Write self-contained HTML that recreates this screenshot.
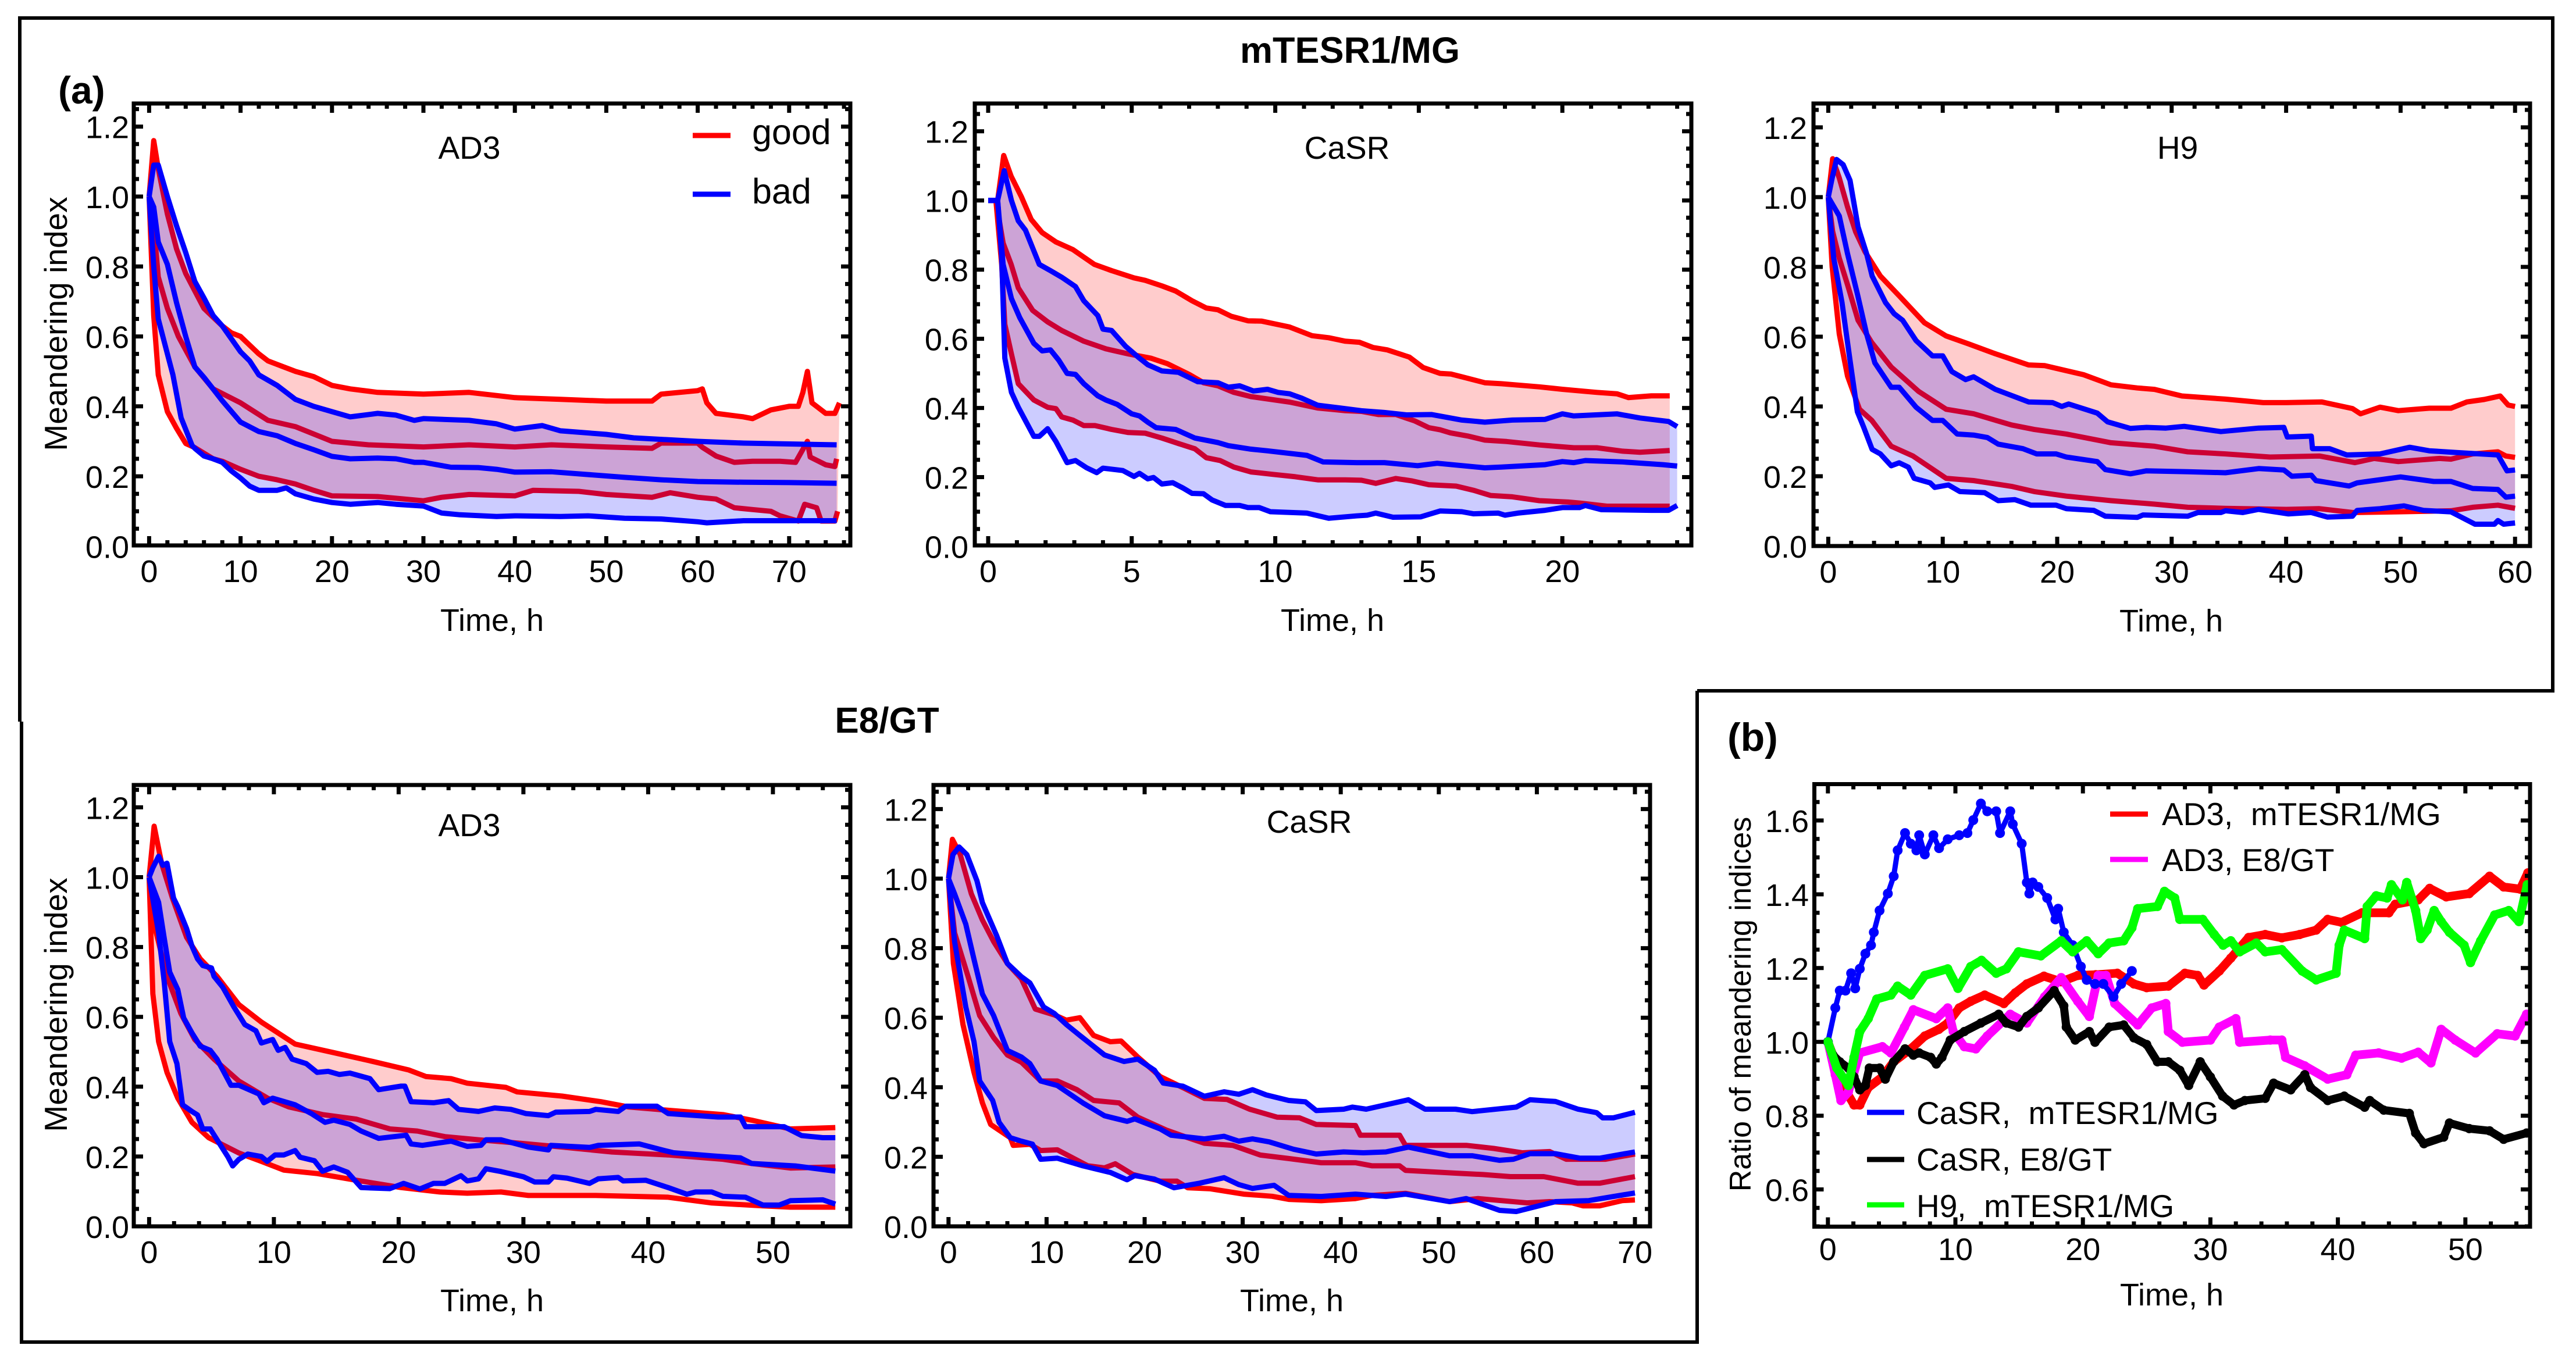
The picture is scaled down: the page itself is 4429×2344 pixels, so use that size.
<!DOCTYPE html>
<html lang="en">
<head>
<meta charset="utf-8">
<title>Meandering index panels</title>
<style>
html,body{margin:0;padding:0;background:#fff;}
svg{display:block;font-family:"Liberation Sans",sans-serif;fill:#000;}
.pre{white-space:pre;}
</style>
</head>
<body>
<svg id="chart" xmlns="http://www.w3.org/2000/svg" width="4429" height="2344" viewBox="0 0 4429 2344">
<defs>
<clipPath id="clip-b"><rect x="3119" y="1348" width="1231" height="761"/></clipPath>
</defs>
<rect x="0" y="0" width="4429" height="2344" fill="#fff"/>
<path d="M34,1241 V31 H4389 V1188 H2918" fill="none" stroke="#000" stroke-width="6"/>
<path d="M37,1241 V2308 H2918 V1188" fill="none" stroke="#000" stroke-width="6"/>
<text x="2321" y="108" font-size="63" font-weight="bold" text-anchor="middle">mTESR1/MG</text>
<text x="1525" y="1260" font-size="62" font-weight="bold" text-anchor="middle">E8/GT</text>
<text x="100" y="178" font-size="66" font-weight="bold">(a)</text>
<text x="2970" y="1291" font-size="68" font-weight="bold">(b)</text>

<g id="plots"></g>

<text font-size="55" text-anchor="middle" transform="translate(115,557) rotate(-90)">Meandering index</text>
<text font-size="55" text-anchor="middle" transform="translate(115,1728) rotate(-90)">Meandering index</text>
<text font-size="52" text-anchor="middle" transform="translate(3010,1727) rotate(-90)">Ratio of meandering indices</text>

<text x="846" y="1085" font-size="54" text-anchor="middle">Time, h</text>
<text x="2291" y="1085" font-size="54" text-anchor="middle">Time, h</text>
<text x="3733" y="1086" font-size="54" text-anchor="middle">Time, h</text>
<text x="846" y="2255" font-size="54" text-anchor="middle">Time, h</text>
<text x="2221" y="2255" font-size="54" text-anchor="middle">Time, h</text>
<text x="3734" y="2245" font-size="54" text-anchor="middle">Time, h</text>

<text x="807" y="273" font-size="55" text-anchor="middle">AD3</text>
<text x="2316" y="273" font-size="55" text-anchor="middle">CaSR</text>
<text x="3744" y="273" font-size="55" text-anchor="middle">H9</text>
<text x="807" y="1438" font-size="55" text-anchor="middle">AD3</text>
<text x="2251" y="1432" font-size="55" text-anchor="middle">CaSR</text>

<g>
<line x1="1191" x2="1256" y1="233" y2="233" stroke="#f00" stroke-width="9"/>
<text x="1293" y="248" font-size="61">good</text>
<line x1="1191" x2="1256" y1="334" y2="334" stroke="#00f" stroke-width="9"/>
<text x="1293" y="350" font-size="61">bad</text>
</g>
<g font-size="55">
<line x1="3628" x2="3693" y1="1400" y2="1400" stroke="#f00" stroke-width="9"/>
<text class="pre" x="3717" y="1419">AD3,  mTESR1/MG</text>
<line x1="3628" x2="3693" y1="1478" y2="1478" stroke="#f0f" stroke-width="9"/>
<text class="pre" x="3717" y="1498">AD3, E8/GT</text>
<line x1="3210" x2="3274" y1="1913" y2="1913" stroke="#00f" stroke-width="9"/>
<text class="pre" x="3295" y="1933">CaSR,  mTESR1/MG</text>
<line x1="3210" x2="3274" y1="1994" y2="1994" stroke="#000" stroke-width="9"/>
<text class="pre" x="3295" y="2013">CaSR, E8/GT</text>
<line x1="3210" x2="3274" y1="2072" y2="2072" stroke="#0f0" stroke-width="9"/>
<text class="pre" x="3295" y="2093">H9,  mTESR1/MG</text>
</g>
</svg>

<script>
// ---------- AD3, mTESR1/MG ----------
const ad3MgGoodUpperT=[0,.5,1,2,3,4,5,6,7,8,9,10,11,12,13,14,16,18,20,22,25,30,35,40,45,50,55,56,60,60.5,61,62,65,66,68,70,71,71.5,72,72.5,73,74,75,75.5];
const ad3MgGoodUpperV=[1,1.16,1.08,.95,.85,.78,.73,.68,.655,.63,.61,.6,.575,.55,.53,.52,.5,.485,.46,.45,.44,.435,.44,.425,.42,.415,.415,.435,.445,.45,.41,.38,.37,.365,.39,.4,.4,.44,.5,.41,.4,.38,.38,.41];
const ad3MgGoodMidT=[0,.5,1,2,3.2,5,7,10,13,16,20,24,30,35,40,44,50,55,56,60,60.5,62,64,66,69,70.7,72,72.3,74,75,75.2];
const ad3MgGoodMidV=[1,.92,.77,.68,.6,.513,.45,.41,.36,.342,.3,.29,.284,.29,.284,.29,.284,.28,.295,.295,.283,.258,.24,.243,.243,.24,.3,.255,.233,.228,.25];
const ad3MgGoodLowerT=[0,.5,1,2,3,4,5,7,8,10,12,14,16,18,20,25,30,32,35,40,42,47,50,55,57,60,62,64,66,68,69,71,71.7,73,73.5,75,75.3];
const ad3MgGoodLowerV=[1,.66,.49,.385,.337,.294,.282,.25,.243,.22,.2,.19,.178,.16,.144,.142,.13,.14,.148,.144,.16,.157,.148,.14,.153,.14,.135,.11,.105,.1,.087,.072,.12,.11,.072,.072,.1];
const ad3MgBadUpperT=[0,.5,1,2,3,4,5,6,7,8,10,11,12,14,16,18,20,22,25,27,29,30,35,38,40,43,45,50,53,60,65,75.2];
const ad3MgBadUpperV=[1,1.09,1.09,1,.916,.84,.757,.71,.66,.63,.556,.53,.49,.46,.42,.4,.385,.37,.38,.375,.36,.365,.36,.35,.335,.345,.33,.32,.31,.3,.295,.29];
const ad3MgBadMidT=[0,.5,1,2,3,4,5,6,8,10,12,14,16,18,20,22,25,27,29,30,33,36,38,40,44,48,52,56,60,65,70,75.2];
const ad3MgBadMidV=[1,.97,.87,.806,.696,.6,.513,.483,.416,.355,.328,.316,.294,.276,.257,.25,.252,.25,.24,.24,.226,.225,.22,.212,.213,.205,.197,.19,.185,.183,.182,.18];
const ad3MgBadLowerT=[0,.5,1,2,2.6,3.5,4.7,5,6,7,8,9,10,11,12,14,15,16,18,19,20,22,25,27,30,32,34,38,40,45,48,52,56,60,61,65,70,75.2];
const ad3MgBadLowerV=[1,.8,.65,.55,.49,.367,.288,.28,.258,.25,.24,.215,.195,.172,.16,.16,.167,.15,.135,.13,.125,.12,.125,.12,.115,.095,.09,.085,.087,.085,.087,.08,.078,.07,.067,.073,.073,.073];

// ---------- CaSR, mTESR1/MG ----------
const casrMgGoodUpperT=[0,.33,.54,.8,1.16,1.5,1.88,2.36,2.95,3.33,3.7,4.3,5.08,5.47,6.05,6.53,7.1,7.6,8,8.47,9.05,9.53,10.5,11.28,11.86,12.44,12.93,13.4,13.9,14.67,15.15,15.74,16.12,16.5,17.3,17.87,19.2,20,21.2,21.9,22.3,23.1,23.74];
const casrMgGoodUpperV=[1,1,1.13,1.07,1.01,.945,.907,.88,.858,.836,.815,.797,.776,.769,.753,.738,.71,.689,.684,.665,.652,.651,.634,.609,.603,.593,.59,.575,.568,.547,.517,.5,.498,.49,.473,.47,.461,.454,.445,.441,.43,.435,.435];
const casrMgGoodMidT=[.27,.52,.8,1.05,1.55,2.07,2.56,3.33,4.1,4.9,5.66,6.24,7,7.5,8,8.56,9.15,10.5,11.47,12.44,13,13.6,14.2,14.86,15.35,15.74,16.1,16.7,17.3,18.06,19.2,20.4,21.2,22.1,22.7,23.74];
const casrMgGoodMidV=[1,.877,.815,.747,.682,.649,.624,.593,.571,.556,.544,.528,.497,.473,.464,.445,.433,.417,.4,.392,.39,.381,.381,.3625,.343,.337,.328,.319,.307,.303,.293,.285,.285,.275,.272,.277];
const casrMgGoodLowerT=[.27,.47,.58,.81,1.05,1.59,2.07,2.36,2.56,2.95,3.33,3.72,4.3,4.88,5.47,6.05,6.63,7.2,7.6,8.08,8.56,9.15,9.92,10.7,11.5,12.44,13,13.5,14.2,14.77,15.35,16.3,16.9,17.5,18.26,19.2,20.2,20.6,21.55,23.1,23.74];
const casrMgGoodLowerV=[1,.815,.642,.556,.47,.423,.402,.398,.374,.365,.349,.349,.338,.329,.327,.313,.297,.282,.256,.248,.229,.215,.208,.201,.192,.192,.191,.182,.196,.189,.178,.174,.162,.147,.143,.132,.128,.125,.116,.116,.116];
const casrMgBadUpperT=[0,.33,.56,.81,1.05,1.3,1.78,2.17,2.56,3.04,3.33,3.82,4,4.3,4.79,5.27,5.56,6.05,6.63,7.3,8,8.37,8.76,9.24,9.73,10.1,10.5,10.9,11.47,12.25,13,13.8,14.57,15.45,16.5,17.3,18.26,19.4,20,20.4,21.9,22.7,23.7,24];
const casrMgBadUpperV=[1,1,1.086,1,.941,.914,.815,.797,.778,.751,.71,.667,.628,.624,.578,.544,.525,.507,.503,.476,.473,.46,.464,.449,.454,.445,.441,.429,.408,.4,.392,.387,.38,.381,.365,.359,.365,.367,.383,.377,.383,.371,.361,.346];
const casrMgBadMidT=[0,.33,.52,.81,1.1,1.59,1.88,2.17,2.46,2.75,3.04,3.33,3.82,4.1,4.5,5,5.27,5.56,5.85,6.53,7.2,8,8.37,9.15,9.73,11.1,11.67,12.83,13.8,14.96,15.64,17.3,17.87,19.4,20,20.4,20.8,22.1,23.5,24];
const casrMgBadMidV=[1,1,.815,.716,.661,.587,.565,.568,.538,.5,.497,.47,.435,.423,.41,.383,.377,.359,.343,.338,.313,.3,.291,.281,.276,.263,.244,.242,.242,.233,.24,.227,.229,.236,.245,.242,.248,.244,.236,.232];
const casrMgBadLowerT=[0,.33,.47,.58,.81,1.05,1.59,1.78,2.07,2.36,2.75,3.04,3.43,3.78,4,4.69,5.08,5.27,5.56,5.76,6.05,6.43,6.8,7.1,7.5,7.8,8.27,8.76,9.05,9.44,9.83,11.1,11.86,12.83,13.2,13.5,14.1,15.06,15.74,16.5,16.9,17.77,18,18.45,19.4,20,20.6,20.8,21.36,23.1,23.7,24];
const casrMgBadLowerV=[1,1,.84,.544,.445,.402,.318,.318,.34,.303,.242,.248,.227,.213,.226,.219,.202,.211,.195,.199,.18,.184,.168,.153,.152,.134,.118,.118,.112,.112,.1,.096,.081,.088,.09,.096,.084,.085,.102,.1,.094,.096,.09,.096,.104,.112,.112,.118,.106,.104,.104,.118];

// ---------- H9, mTESR1/MG ----------
const h9MgGoodUpperT=[0,.38,.96,1.68,2.4,3.2,4.55,6.2,8.4,10.3,12.2,14.6,17.5,18.9,22.3,24.7,27,28.5,30.9,34.7,38,40,43.1,45.8,46.5,48.2,49.8,52.5,54.4,55.8,57.3,58.7,59.4,60];
const h9MgGoodUpperV=[1,1.11,1.055,.972,.9,.844,.774,.717,.64,.602,.58,.551,.519,.517,.491,.462,.453,.449,.43,.421,.411,.411,.413,.394,.379,.398,.388,.395,.395,.413,.42,.43,.404,.4];
const h9MgGoodMidT=[0,.38,.96,1.68,2.6,3.8,5.5,7.9,10.3,12.7,16,18,20.8,24.7,28.5,31.4,34.7,38.6,42.9,46,47.7,49.8,53.4,54.4,56.3,58.5,59.2,60];
const h9MgGoodMidV=[1,.902,.825,.749,.647,.583,.513,.443,.392,.379,.347,.334,.321,.296,.286,.27,.264,.255,.258,.239,.251,.242,.251,.249,.264,.27,.258,.254];
const h9MgGoodLowerT=[0,.34,.96,1.68,2.73,3.8,5.5,7.4,10.3,12.7,16,18,20.8,24.7,28.5,31.4,34.7,40,42.9,45.8,49.6,54.4,56.3,58.5,60];
const h9MgGoodLowerV=[1,.8,.608,.487,.392,.36,.286,.258,.194,.1875,.171,.156,.143,.13,.12,.111,.108,.105,.107,.096,.098,.101,.111,.117,.108];
const h9MgBadUpperT=[0,.34,.72,1.3,1.9,2.6,3.35,3.83,5,5.75,6.5,7.67,9.1,10,10.8,12,12.7,14.6,17.5,19.6,20.4,21,23.5,24.4,26.4,27.8,29.5,31.1,34.3,37.6,39.8,40.1,42.2,42.3,43.8,45.3,48.2,50.8,52.5,54.9,58.5,59.3,60];
const h9MgBadUpperV=[1,1.055,1.108,1.093,1.048,.915,.838,.774,.698,.666,.647,.589,.545,.545,.5,.477,.485,.449,.413,.411,.4,.407,.381,.356,.337,.34,.338,.343,.328,.338,.34,.3125,.315,.279,.279,.261,.264,.283,.273,.268,.261,.2155,.218];
const h9MgBadMidT=[0,.96,1.68,2.54,3.35,4.07,5.5,6.2,7.67,9.1,10,11.26,12.7,13.9,14.85,17,18.2,19.9,20.8,23.5,24.2,26.4,27.8,31.4,34.7,37.6,39.8,40.5,42.2,42.6,45.5,46.2,50,52.9,54.4,56.3,58.5,59.2,60];
const h9MgBadMidV=[1,.946,.838,.723,.608,.525,.455,.455,.398,.36,.36,.321,.318,.311,.292,.279,.264,.264,.255,.242,.219,.207,.2155,.213,.21,.222,.218,.2,.203,.1875,.172,.181,.198,.185,.185,.165,.162,.14,.143];
const h9MgBadLowerT=[0,.48,1.2,1.9,2.54,3.1,3.83,4.55,5.5,6.2,7,7.5,8.9,9.3,10.5,11.5,13.66,14.85,16.3,17.7,19.9,20.8,23.2,24.2,27,27.5,31.4,32.3,34.3,34.7,36.2,37.6,40.2,42.2,43.6,45.8,46.2,48.2,50.3,52,54.4,56.5,58.2,58.5,59,60];
const h9MgBadLowerV=[1,.825,.698,.532,.385,.34,.277,.264,.23,.2385,.226,.194,.181,.168,.175,.156,.153,.13,.133,.117,.117,.107,.102,.0855,.082,.089,.0855,.096,.096,.101,.096,.105,.092,.096,.083,.0855,.102,.107,.115,.102,.098,.0625,.0625,.073,.0625,.066];

// ---------- AD3, E8/GT ----------
const ad3E8GoodUpperT=[0,.4,1,1.87,3,4.1,5.44,7.2,9,11.7,14.8,17.9,20.8,22.2,24.2,25.5,28.6,29.5,33.1,36.2,38.4,40.7,46,48.3,51.4,55];
const ad3E8GoodUpperV=[1,1.146,1.04,.94,.828,.766,.716,.635,.585,.522,.4975,.4725,.448,.429,.423,.41,.398,.385,.373,.357,.342,.335,.32,.304,.279,.283];
const ad3E8GoodMidT=[0,.4,1.43,2.54,3.66,5.2,7.2,9.5,11.2,13.9,16.6,19.3,21.5,23.7,26.4,30.4,33.1,37.1,41.6,46,48.3,51.4,55];
const ad3E8GoodMidV=[1,.865,.716,.61,.535,.479,.416,.367,.342,.32,.307,.279,.273,.257,.248,.236,.227,.213,.2045,.192,.18,.167,.17];
const ad3E8GoodLowerT=[0,.3,.76,1.43,2.3,3.43,4.77,7.2,9,10.8,13.5,16.6,20.2,23.3,25.5,28.2,30.4,35.8,41.6,45.1,49.2,51.4,55];
const ad3E8GoodLowerV=[1,.666,.529,.441,.367,.298,.254,.21,.186,.161,.151,.132,.111,.0985,.095,.0985,.0885,.0885,.0835,.067,.0586,.055,.055];
const ad3E8BadUpperT=[0,.3,.76,1.1,1.43,1.96,2.3,3,3.43,3.88,4.3,5,5.2,5.9,6.8,7.67,8.56,9,9.9,10.35,10.9,11.46,12.6,13.47,14.36,15.25,16.1,17.7,18.4,20.16,20.5,21,22.8,24,24.8,26.4,27.7,29,30.2,32,32.6,35.3,35.8,37.6,38.2,40.7,41.6,45.6,47.4,47.8,50.9,52.3,54,55];
const ad3E8BadUpperV=[1,1.027,1.06,1.034,1.04,.94,.915,.853,.803,.766,.747,.74,.716,.685,.628,.578,.56,.525,.535,.504,.5125,.479,.466,.441,.444,.435,.439,.423,.3915,.4015,.4015,.357,.354,.36,.335,.329,.339,.335,.323,.317,.327,.329,.335,.329,.344,.344,.323,.313,.313,.2855,.2855,.26,.254,.254];
const ad3E8BadMidT=[0,.76,1.2,1.65,2.3,2.77,3.43,4.1,4.9,5.44,6.56,7.2,8.8,9.2,9.9,11.7,13,14.1,14.8,16.1,17,18.4,20.6,21,21.9,24.2,25.5,26.6,27,28.2,30.4,32,32.2,35.3,36,39.3,41.1,42,45.1,47.4,48.3,51.8,55];
const ad3E8BadMidV=[1,.928,.828,.728,.678,.597,.554,.516,.504,.479,.404,.404,.379,.354,.367,.348,.323,.298,.304,.292,.273,.252,.261,.236,.232,.244,.229,.232,.248,.248,.227,.219,.232,.226,.232,.236,.219,.211,.202,.196,.18,.173,.158];
const ad3E8BadLowerT=[0,.76,1.2,1.65,2.23,2.68,3.43,3.88,4.3,4.9,5.66,6.33,6.7,7.2,7.9,9,9.46,10.1,10.8,11.7,12.1,13.25,13.9,14.8,15.9,17,19.3,20.4,21.7,22.8,23.7,25,25.5,26.4,27,28.2,30,30.9,32,32.4,33.5,35.3,36,37.6,38,39.8,41.6,43.1,43.8,45.1,46,47.8,49.2,50.5,51.4,54,55];
const ad3E8BadLowerV=[1,.84,.703,.529,.466,.348,.329,.319,.279,.279,.236,.198,.173,.192,.207,.2,.186,.2045,.2045,.217,.198,.188,.158,.17,.155,.111,.108,.123,.107,.123,.123,.145,.13,.136,.165,.157,.142,.127,.127,.142,.138,.123,.136,.14,.13,.132,.111,.092,.0985,.0985,.086,.0835,.061,.061,.0735,.076,.0636];

// ---------- CaSR, E8/GT ----------
const casrE8GoodUpperT=[0,.4,1.2,2.33,3.46,4.6,6,7.43,8.85,10.8,12,13.4,14.8,16.5,17.6,19.3,21.6,23.9,26.1,28.4,30.7,33.5,35.8,37.5,41.5,42,46,46.6,52.8,55.6,58.5,61.3,63,67,70];
const casrE8GoodUpperV=[1,1.113,1.069,.956,.881,.819,.756,.712,.625,.608,.593,.6,.549,.531,.533,.487,.4305,.399,.368,.365,.337,.314,.312,.293,.29,.262,.262,.233,.233,.224,.2115,.215,.193,.193,.208];
const casrE8GoodMidT=[0,.62,2,3.18,4.6,6,7.43,9.4,11.1,13.1,14.8,17.4,19.3,22.2,24.4,26.1,29,31.8,34.7,38,41.5,43.2,46,46.6,51.7,54.5,57.3,60.7,64.2,66.4,70];
const casrE8GoodMidV=[1,.844,.718,.606,.543,.493,.472,.418,.418,.393,.362,.355,.314,.277,.255,.239,.233,.205,.195,.183,.183,.174,.174,.161,.153,.149,.143,.143,.124,.124,.143];
const casrE8GoodLowerT=[0,.5,1.47,2.6,3.46,4.3,6.3,6.6,8.3,9.4,11.1,14.2,15.9,17,18.8,21.6,23.3,24.4,26.7,28.7,30.1,33,34.7,38,41.5,43.2,46.6,51.1,54,59,61.3,63.6,64.7,66.4,68.7,70];
const casrE8GoodLowerV=[1,.756,.581,.443,.355,.293,.255,.233,.236,.218,.22,.174,.168,.18,.149,.13,.13,.111,.108,.099,.0926,.0864,.0776,.0738,.08,.089,.095,.071,.08,.0676,.071,.0676,.059,.059,.074,.076];
const casrE8BadUpperT=[0,.45,1.08,1.87,2.9,3.46,4.9,6,7.43,8.3,9.7,10.8,12,13.4,15.9,17.9,19.3,21,21.9,23.9,26.1,28.1,29.6,31,32.4,34.7,36.4,37.5,40.3,41.2,42.6,46.9,48.6,51.7,53.4,57.9,59.3,61.9,64.2,66.1,66.7,67.8,70];
const casrE8BadUpperV=[1,1.069,1.091,1.069,.994,.931,.837,.756,.718,.7,.631,.612,.581,.549,.493,.474,.481,.449,.412,.403,.374,.387,.38,.393,.378,.362,.358,.333,.337,.343,.337,.364,.337,.337,.33,.343,.364,.359,.337,.327,.312,.312,.328];
const casrE8BadMidT=[0,.62,1.76,2.6,3.46,4.6,6,7.43,8.3,9.4,11.1,13.7,15.9,18.2,19,21.6,22.7,26.1,28.1,29.6,31,32.7,35.2,37.5,40.3,42.3,44.6,46.9,51.1,53.4,56.2,57.6,59.3,61.9,64.4,66.4,70];
const casrE8BadMidV=[1,.956,.869,.768,.668,.606,.506,.487,.468,.418,.405,.355,.318,.302,.309,.28,.262,.2515,.259,.245,.2515,.243,.2215,.208,.214,.2115,.214,.228,.203,.203,.19,.193,.209,.209,.196,.196,.214];
const casrE8BadLowerT=[0,.62,1.76,2.6,3.18,4.5,5.16,6.3,7.43,8.56,9.4,11.1,13.7,16.5,18.2,19,21,23,25.6,28.1,29.6,31,33.2,34.7,38,41.5,44.6,46.6,51.1,52.8,56.2,57.9,61.9,65.3,70];
const casrE8BadLowerV=[1,.818,.631,.531,.418,.362,.299,.255,.245,.2365,.193,.196,.174,.155,.134,.146,.136,.111,.124,.14,.12,.109,.118,.089,.086,.0926,.086,.0926,.071,.08,.046,.0426,.071,.074,.096];

// ---------- (b) ratio of meandering indices ----------
const ratioAd3MgT=[0,.58,1.16,2.05,2.5,3.16,4.27,5.16,6.5,7.6,8.7,9.4,10.3,11.2,12.3,13.8,14.7,15.6,16.95,18.3,19.6,21,22.7,24,25,26.7,28,29,29.5,30.7,31.6,33,34.3,35.6,37,38.3,39.2,40.3,41.9,44,44.5,46.3,47.2,48.5,50.3,51.9,53,54.3,54.9];
const ratioAd3MgV=[1,.946,.882,.829,.829,.876,.905,.946,.981,1.016,1.034,1.051,1.092,1.11,1.127,1.104,1.133,1.157,1.178,1.163,1.18,1.182,1.186,1.157,1.147,1.151,1.186,1.18,1.154,1.192,1.227,1.283,1.291,1.282,1.291,1.303,1.332,1.324,1.35,1.35,1.373,1.385,1.416,1.393,1.402,1.449,1.42,1.414,1.458];
const ratioAd3E8T=[0,.58,1.02,1.6,2.5,4.27,4.94,6,6.7,8.5,9.4,9.83,10.7,11.6,12.5,14.3,15.6,17,18.3,19.6,20.5,21.2,21.8,22.5,24.3,25.4,26.5,26.7,27.8,30,30.7,32,32.3,34.7,35.6,35.9,37.4,39.2,40.7,41.4,43.2,45,46.3,47.3,48.1,49.2,50.8,52.5,53.9,54.8];
const ratioAd3E8V=[1,.911,.841,.864,.97,.987,.97,1.04,1.087,1.063,1.092,1.028,.987,.981,1.016,1.075,1.051,1.122,1.174,1.11,1.069,1.18,1.18,1.104,1.046,1.092,1.104,1.028,.999,1.005,1.04,1.063,.999,1.005,1.005,.958,.935,.899,.911,.964,.97,.956,.972,.943,1.034,1.005,.97,1.022,1.016,1.075];
const ratioCasrMgT=[0,.58,.93,1.38,1.82,2.14,2.5,2.94,3.38,3.6,4.05,4.7,5.16,5.47,6.05,6.5,6.94,7.16,7.6,8.27,8.72,9.4,10.3,10.94,11.4,12,12.5,13.2,13.5,14.3,14.5,15.2,15.6,15.8,16.06,16.5,17.2,17.84,18.06,18.5,19.2,19.84,20.3,20.95,21.6,22.4,23,23.84];
const ratioCasrMgV=[1,1.092,1.139,1.139,1.186,1.145,1.198,1.239,1.262,1.297,1.356,1.402,1.449,1.519,1.566,1.537,1.519,1.56,1.508,1.56,1.525,1.549,1.56,1.566,1.601,1.646,1.625,1.625,1.566,1.625,1.59,1.537,1.432,1.402,1.432,1.42,1.39,1.332,1.361,1.297,1.262,1.204,1.168,1.157,1.157,1.122,1.157,1.192];
const ratioCasrE8T=[0,.4,.93,1.6,2.05,2.5,2.94,3.25,4.05,4.5,5.16,6.05,6.7,7.16,8.05,8.5,8.94,9.6,10.7,12,13.4,14,14.95,15.6,16.5,17.75,18.5,18.7,19.4,20.5,20.95,22.06,23.2,24,25,25.85,26.7,27.6,28.3,29.2,30,30.96,31.85,32.7,34.3,34.96,36.3,37.4,37.86,39.2,40.5,42.1,42.5,43.6,45.6,46.1,46.75,48.3,48.75,50.3,51.9,53,54.8];
const ratioCasrE8V=[1,.964,.946,.929,.905,.87,.882,.929,.929,.899,.946,.981,.964,.97,.958,.94,.958,1.005,1.028,1.051,1.075,1.051,1.04,1.069,1.092,1.139,1.098,1.04,1.005,1.028,.999,1.04,1.046,1.011,.993,.946,.946,.923,.882,.946,.905,.853,.829,.841,.847,.888,.87,.911,.876,.841,.853,.823,.841,.815,.806,.753,.724,.742,.78,.765,.759,.736,.753];
const ratioH9MgT=[0,.7,1.6,2.05,2.5,3.16,3.83,4.94,5.47,6.5,7.6,9.4,10.2,11.2,12.05,13.2,14,14.95,16.7,18.3,19.2,20.3,21.2,22.06,23.2,23.84,24.3,25.85,26.4,27.2,27.6,29.4,30.3,31,31.6,32.3,33.6,34.3,35.6,37.2,38.3,39.86,40.1,40.5,42.1,42.3,43,43.86,44.2,45.06,45.4,46.1,46.5,47,47.55,48.1,48.75,49.9,50.4,51.2,52.3,53.4,54.2,54.85];
const ratioH9MgV=[1,.929,.882,.958,1.028,1.063,1.116,1.127,1.151,1.127,1.18,1.198,1.145,1.204,1.221,1.186,1.198,1.244,1.233,1.274,1.244,1.274,1.239,1.268,1.274,1.309,1.361,1.367,1.408,1.39,1.332,1.332,1.291,1.262,1.274,1.244,1.268,1.244,1.25,1.192,1.168,1.186,1.262,1.303,1.28,1.367,1.396,1.39,1.426,1.385,1.432,1.356,1.28,1.303,1.356,1.326,1.297,1.262,1.215,1.274,1.344,1.356,1.326,1.426];

// ---------- tick labels ----------
const yTickLabelsIndex=["0.0","0.2","0.4","0.6","0.8","1.0","1.2"];
const yTickLabelsRatio=["0.6","0.8","1.0","1.2","1.4","1.6"];
const xTickLabelsAd3Mg=["0","10","20","30","40","50","60","70"];
const xTickLabelsCasrMg=["0","5","10","15","20"];
const xTickLabelsH9Mg=["0","10","20","30","40","50","60"];
const xTickLabelsAd3E8=["0","10","20","30","40","50"];
const xTickLabelsCasrE8=["0","10","20","30","40","50","60","70"];
const xTickLabelsRatio=["0","10","20","30","40","50"];

const SVGNS='http://www.w3.org/2000/svg';
const plots=document.getElementById('plots');

function node(tag,parent){
  const el=document.createElementNS(SVGNS,tag);
  parent.appendChild(el);
  return el;
}
function axisX(p,t){return p.x0+t*p.xs;}
function axisY(p,v){return p.y0-(v-p.vBase)*p.ys;}
function linePath(p,T,V){
  let d='';
  for(let i=0;i<T.length;i++){d+=(i?'L':'M')+axisX(p,T[i]).toFixed(1)+','+axisY(p,V[i]).toFixed(1);}
  return d;
}
function bandPath(p,T1,V1,T2,V2){
  let d=linePath(p,T1,V1);
  for(let i=T2.length-1;i>=0;i--){d+='L'+axisX(p,T2[i]).toFixed(1)+','+axisY(p,V2[i]).toFixed(1);}
  return d+'Z';
}
function drawBand(g,p,name,color,d){
  const el=node('path',g);
  
  
  el.setAttribute('d',d);
  el.setAttribute('fill',color);
  el.setAttribute('fill-opacity','0.2');
}
function drawLine(g,p,name,color,T,V){
  const el=node('path',g);
  
  
  el.setAttribute('d',linePath(p,T,V));
  el.setAttribute('fill','none');
  el.setAttribute('stroke',color);
  el.setAttribute('stroke-width','9');
  el.setAttribute('stroke-linejoin','round');
}
function drawFrame(g,p){
  const fr=node('rect',g);
  
  
  fr.setAttribute('x',p.left);fr.setAttribute('y',p.top);
  fr.setAttribute('width',p.right-p.left);fr.setAttribute('height',p.bottom-p.top);
  fr.setAttribute('fill','none');fr.setAttribute('stroke','#000');fr.setAttribute('stroke-width','7');

  const ticks=node('g',g);
  
  
  let d1='',d2='';
  // x ticks (bottom and top)
  for(let k=0;;k++){
    const t=k*p.xMinor,x=axisX(p,t);
    if(x>p.right-8)break;
    const maj=(k%p.xEvery===0),len=maj?16:9;
    const seg='M'+x.toFixed(1)+','+p.bottom+'V'+(p.bottom-len)+'M'+x.toFixed(1)+','+p.top+'V'+(p.top+len);
    if(maj)d1+=seg;else d2+=seg;
  }
  // y ticks (left and right)
  for(let k=0;;k++){
    const v=p.vBase+k*0.05,y=axisY(p,v);
    if(y<p.top+5)break;
    if(k===0&&p.vBase===0)continue;
    const maj=(Math.round((v-p.yMajorStart)*100)%20===0),len=maj?16:9;
    const seg='M'+p.left+','+y.toFixed(1)+'H'+(p.left+len)+'M'+p.right+','+y.toFixed(1)+'H'+(p.right-len);
    if(maj)d1+=seg;else d2+=seg;
  }
  const maj=node('path',ticks);
  
  
  maj.setAttribute('d',d1);maj.setAttribute('stroke','#000');maj.setAttribute('stroke-width','7');
  const min=node('path',ticks);
  
  
  min.setAttribute('d',d2);min.setAttribute('stroke','#000');min.setAttribute('stroke-width','7');

  p.xLabels.forEach(function(s){
    const tx=node('text',g);
    
    
    tx.setAttribute('x',axisX(p,parseFloat(s)).toFixed(1));
    tx.setAttribute('y',p.xLabelY);
    tx.setAttribute('font-size','54');
    tx.setAttribute('text-anchor','middle');
    tx.textContent=s;
  });
  p.yLabels.forEach(function(s){
    const tx=node('text',g);
    
    
    tx.setAttribute('x',p.yLabelX);
    tx.setAttribute('y',(axisY(p,parseFloat(s))+20).toFixed(1));
    tx.setAttribute('font-size','54');
    tx.setAttribute('text-anchor','end');
    tx.textContent=s;
  });
}
function drawBandPanel(p,s){
  const g=node('g',plots);
  
  
  drawBand(g,p,'good','#f00',bandPath(p,s.gu[0],s.gu[1],s.gl[0],s.gl[1]));
  drawLine(g,p,'good-upper','#f00',s.gu[0],s.gu[1]);
  drawLine(g,p,'good-mean','#f00',s.gm[0],s.gm[1]);
  drawLine(g,p,'good-lower','#f00',s.gl[0],s.gl[1]);
  drawBand(g,p,'bad','#00f',bandPath(p,s.bu[0],s.bu[1],s.bl[0],s.bl[1]));
  drawLine(g,p,'bad-upper','#00f',s.bu[0],s.bu[1]);
  drawLine(g,p,'bad-mean','#00f',s.bm[0],s.bm[1]);
  drawLine(g,p,'bad-lower','#00f',s.bl[0],s.bl[1]);
  drawFrame(g,p);
}

const geomBase={vBase:0,yMajorStart:0,yLabels:yTickLabelsIndex};
drawBandPanel(Object.assign({},geomBase,{id:'ad3-mg',left:230,right:1462,top:178,bottom:938,x0:256.4,xs:15.72,y0:939.4,ys:601.4,xMinor:2,xEvery:5,xLabels:xTickLabelsAd3Mg,xLabelY:1001,yLabelX:222}),
 {gu:[ad3MgGoodUpperT,ad3MgGoodUpperV],gm:[ad3MgGoodMidT,ad3MgGoodMidV],gl:[ad3MgGoodLowerT,ad3MgGoodLowerV],bu:[ad3MgBadUpperT,ad3MgBadUpperV],bm:[ad3MgBadMidT,ad3MgBadMidV],bl:[ad3MgBadLowerT,ad3MgBadLowerV]});
drawBandPanel(Object.assign({},geomBase,{id:'casr-mg',left:1676,right:2908,top:178,bottom:938,x0:1699,xs:49.36,y0:939.5,ys:594.8,xMinor:1,xEvery:5,xLabels:xTickLabelsCasrMg,xLabelY:1001,yLabelX:1665}),
 {gu:[casrMgGoodUpperT,casrMgGoodUpperV],gm:[casrMgGoodMidT,casrMgGoodMidV],gl:[casrMgGoodLowerT,casrMgGoodLowerV],bu:[casrMgBadUpperT,casrMgBadUpperV],bm:[casrMgBadMidT,casrMgBadMidV],bl:[casrMgBadLowerT,casrMgBadLowerV]});
drawBandPanel(Object.assign({},geomBase,{id:'h9-mg',left:3118,right:4350,top:178,bottom:939,x0:3143.4,xs:19.68,y0:939,ys:600,xMinor:2,xEvery:5,xLabels:xTickLabelsH9Mg,xLabelY:1002,yLabelX:3107}),
 {gu:[h9MgGoodUpperT,h9MgGoodUpperV],gm:[h9MgGoodMidT,h9MgGoodMidV],gl:[h9MgGoodLowerT,h9MgGoodLowerV],bu:[h9MgBadUpperT,h9MgBadUpperV],bm:[h9MgBadMidT,h9MgBadMidV],bl:[h9MgBadLowerT,h9MgBadLowerV]});
drawBandPanel(Object.assign({},geomBase,{id:'ad3-e8',left:230,right:1462,top:1350,bottom:2109,x0:256.4,xs:21.45,y0:2109,ys:600.5,xMinor:2,xEvery:5,xLabels:xTickLabelsAd3E8,xLabelY:2172,yLabelX:222}),
 {gu:[ad3E8GoodUpperT,ad3E8GoodUpperV],gm:[ad3E8GoodMidT,ad3E8GoodMidV],gl:[ad3E8GoodLowerT,ad3E8GoodLowerV],bu:[ad3E8BadUpperT,ad3E8BadUpperV],bm:[ad3E8BadMidT,ad3E8BadMidV],bl:[ad3E8BadLowerT,ad3E8BadLowerV]});
drawBandPanel(Object.assign({},geomBase,{id:'casr-e8',left:1605,right:2837,top:1350,bottom:2109,x0:1630.8,xs:16.86,y0:2109,ys:598,xMinor:2,xEvery:5,xLabels:xTickLabelsCasrE8,xLabelY:2172,yLabelX:1595}),
 {gu:[casrE8GoodUpperT,casrE8GoodUpperV],gm:[casrE8GoodMidT,casrE8GoodMidV],gl:[casrE8GoodLowerT,casrE8GoodLowerV],bu:[casrE8BadUpperT,casrE8BadUpperV],bm:[casrE8BadMidT,casrE8BadMidV],bl:[casrE8BadLowerT,casrE8BadLowerV]});

// ---------- panel (b) ----------
const ratioPanel={id:'ratio',left:3119.5,right:4350,top:1348.5,bottom:2109.5,x0:3142.8,xs:21.92,y0:2109,ys:634.5,vBase:0.5,yMajorStart:0.6,yLabels:yTickLabelsRatio,xMinor:2,xEvery:5,xLabels:xTickLabelsRatio,xLabelY:2167,yLabelX:3110};
function drawRatio(g,p,name,color,T,V,w,r){
  const sg=node('g',g);
  
  
  const el=node('path',sg);
  
  
  el.setAttribute('d',linePath(p,T,V));
  el.setAttribute('fill','none');
  el.setAttribute('stroke',color);
  el.setAttribute('stroke-width',w);
  el.setAttribute('stroke-linejoin','round');
  for(let i=0;i<T.length;i++){
    const c=node('circle',sg);
    
    
    c.setAttribute('cx',axisX(p,T[i]).toFixed(1));
    c.setAttribute('cy',axisY(p,V[i]).toFixed(1));
    c.setAttribute('r',r);
    c.setAttribute('fill',color);
  }
}
(function(){
  const g=node('g',plots);
  
  
  const clip=node('g',g);
  
  
  clip.setAttribute('clip-path','url(#clip-b)');
  drawRatio(clip,ratioPanel,'ad3-mg','#f00',ratioAd3MgT,ratioAd3MgV,'15','8');
  drawRatio(clip,ratioPanel,'ad3-e8','#f0f',ratioAd3E8T,ratioAd3E8V,'15','8');
  drawRatio(clip,ratioPanel,'casr-mg','#00f',ratioCasrMgT,ratioCasrMgV,'9','8.5');
  drawRatio(clip,ratioPanel,'casr-e8','#000',ratioCasrE8T,ratioCasrE8V,'14','8');
  drawRatio(clip,ratioPanel,'h9-mg','#0f0',ratioH9MgT,ratioH9MgV,'15','8');
  drawFrame(g,ratioPanel);
})();
</script>
</body>
</html>
